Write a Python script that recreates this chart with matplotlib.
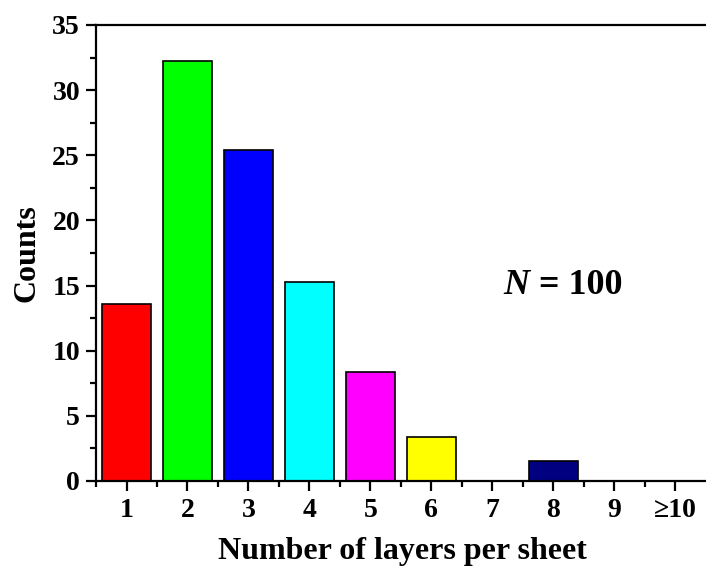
import matplotlib
matplotlib.use('Agg')
import matplotlib.pyplot as plt
from matplotlib.ticker import MultipleLocator

# データ
layers = [1, 2, 3, 4, 5, 6, 7, 8, 9, 10]
layer_labels = ['1', '2', '3', '4', '5', '6', '7', '8', '9', '≥10']
counts = [13.6, 32.2, 25.4, 15.3, 8.4, 3.35, 0, 1.55, 0, 0]
bar_colors = ['#ff0000', '#00ff00', '#0000ff', '#00ffff', '#ff00ff',
              '#ffff00', '#ffffff', '#000080', '#ffffff', '#ffffff']

plt.rcParams['font.family'] = ['Liberation Serif', 'DejaVu Serif']
plt.rcParams['font.weight'] = 'bold'

fig = plt.figure(figsize=(7.06, 5.67), dpi=100)
ax = fig.add_axes([0.136, 0.1517, 0.868, 0.8043])

for x, c, col in zip(layers, counts, bar_colors):
    if c > 0:
        ax.bar(x, c, width=0.8, color=col, edgecolor='black', linewidth=1.2, zorder=2)

ax.set_xlim(0.5, 10.55)
ax.set_ylim(0, 35)
ax.set_xticks(layers)
ax.set_xticklabels(layer_labels)
ax.set_xticks([l + 0.5 for l in layers[:-1]] + [0.5], minor=True)
ax.yaxis.set_major_locator(MultipleLocator(5))
ax.yaxis.set_minor_locator(MultipleLocator(2.5))

ax.tick_params(which='major', direction='out', length=7.5, width=1.6,
               labelsize=20, pad=4)
ax.tick_params(which='minor', direction='out', length=4.5, width=1.6)
ax.tick_params(axis='x', which='major', pad=5)

for s in ['left', 'bottom', 'top']:
    ax.spines[s].set_linewidth(1.6)
ax.spines['right'].set_visible(False)

ax.set_xlabel('Number of layers per sheet', fontsize=23, fontweight='bold', labelpad=10)
ax.set_ylabel('Counts', fontsize=23, fontweight='bold', labelpad=8)

# N = 100
ax.text(7.61, 15.0, 'N', fontsize=26, fontweight='bold', style='italic',
        ha='right', va='center')
ax.text(7.61, 15.0, ' = 100', fontsize=26, fontweight='bold',
        ha='left', va='center')

plt.savefig('out.png', dpi=100)
plt.close(fig)
